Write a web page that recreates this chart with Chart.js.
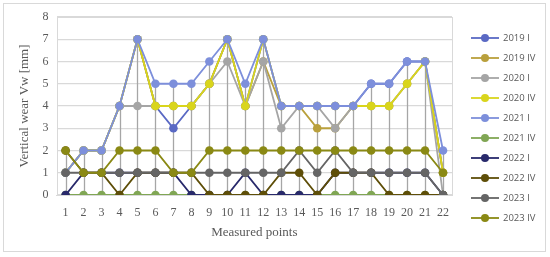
<!DOCTYPE html>
<html>
<head>
<meta charset="utf-8">
<script src="https://cdn.jsdelivr.net/npm/chart.js@4.4.1/dist/chart.umd.min.js"></script>
<style>
  html, body { margin: 0; padding: 0; background: #fff; }
  #wrap { position: relative; width: 550px; height: 257px; }
  #frame { position: absolute; left: 3px; top: 3px; width: 543px; height: 249px; border: 1px solid #d9d9d9; box-sizing: border-box; }
</style>
</head>
<body>
<div id="wrap">
  <div id="frame"></div>
  <canvas id="wearChart" width="550" height="257"></canvas>
</div>
<script>
// Measured points along the rail
const points = ["1","2","3","4","5","6","7","8","9","10","11","12","13","14","15","16","17","18","19","20","21","22"];

// vertical wear Vw [mm] per survey
const v2019I  = [1,2,2,4,7,4,3,4,5,7,4,7,4,4,4,4,4,5,5,6,6,1];
const v2019IV = [1,2,2,4,7,4,4,4,5,7,4,6,4,4,3,3,4,4,4,5,6,1];
const v2020I  = [1,2,2,4,4,4,4,4,5,6,4,6,3,4,4,3,4,4,4,5,6,0];
const v2020IV = [1,2,2,4,7,4,4,4,5,7,4,7,4,4,4,4,4,4,4,5,6,1];
const v2021I  = [1,2,2,4,7,5,5,5,6,7,5,7,4,4,4,4,4,5,5,6,6,2];
const v2021IV = [0,0,0,0,0,0,0,0,0,0,0,0,0,0,0,0,0,0,0,0,0,0];
const v2022I  = [0,1,1,1,1,1,1,0,0,0,1,0,0,0,0,1,1,1,1,1,1,0];
const v2022IV = [2,1,1,0,1,1,1,1,0,0,0,0,1,1,0,1,1,1,0,0,0,0];
const v2023I  = [1,1,1,1,1,1,1,1,1,1,1,1,1,2,1,2,1,1,1,1,1,0];
const v2023IV = [2,1,1,2,2,2,1,1,2,2,2,2,2,2,2,2,2,2,2,2,2,1];

const seriesNames = ["2019 I","2019 IV","2020 I","2020 IV","2021 I","2021 IV","2022 I","2022 IV","2023 I","2023 IV"];
const seriesData = [v2019I, v2019IV, v2020I, v2020IV, v2021I, v2021IV, v2022I, v2022IV, v2023I, v2023IV];
const seriesColors = ["#5a69c4","#b9a03c","#a5a5a5","#d9d51c","#7d8fdb","#80a654","#28296b","#5e4e08","#656565","#8a8914"];

const datasets = seriesNames.map(function (name, i) {
  return {
    label: name,
    data: seriesData[i],
    borderColor: seriesColors[i],
    backgroundColor: seriesColors[i],
    borderWidth: 1.8,
    pointRadius: 4.3,
    pointBorderWidth: 0,
    tension: 0,
    order: seriesNames.length - i   // later surveys on top, like the original
  };
});

// plot frame + gray drop lines from the highest point down to the axis
const dropLines = {
  id: "dropLines",
  beforeDatasetsDraw(chart) {
    const x = chart.scales.x, y = chart.scales.y, ctx = chart.ctx;
    const a = chart.chartArea;
    ctx.save();
    ctx.strokeStyle = "#d9d9d9";
    ctx.lineWidth = 1;
    ctx.strokeRect(Math.round(a.left) + 0.5, Math.round(a.top) + 0.5, Math.round(a.right - a.left), Math.round(a.bottom - a.top));
    ctx.strokeStyle = "#a6a6a6";
    ctx.lineWidth = 1.3;
    points.forEach(function (p, i) {
      let top = 0;
      seriesData.forEach(function (s) { if (s[i] > top) top = s[i]; });
      const px = Math.round(x.getPixelForValue(i)) + 0.5;
      ctx.beginPath();
      ctx.moveTo(px, y.getPixelForValue(top));
      ctx.lineTo(px, y.getPixelForValue(0));
      ctx.stroke();
    });
    ctx.restore();
  }
};

// Excel style legend: short line with a marker
const sideLegend = {
  id: "sideLegend",
  afterDraw(chart) {
    const ctx = chart.ctx;
    const x0 = 471, y0 = 38, step = 20;
    ctx.save();
    ctx.font = "9.5px 'Open Sans', sans-serif";
    ctx.textBaseline = "middle";
    seriesNames.forEach(function (name, i) {
      const yy = y0 + i * step;
      ctx.strokeStyle = seriesColors[i];
      ctx.lineWidth = 1.8;
      ctx.beginPath();
      ctx.moveTo(x0, yy);
      ctx.lineTo(x0 + 28, yy);
      ctx.stroke();
      ctx.fillStyle = seriesColors[i];
      ctx.beginPath();
      ctx.arc(x0 + 14, yy, 4, 0, Math.PI * 2);
      ctx.fill();
      ctx.fillStyle = "#595959";
      ctx.fillText(name, x0 + 32, yy);
    });
    ctx.restore();
  }
};

window.onload = function () {
  const ctx = document.getElementById("wearChart").getContext("2d");
  new Chart(ctx, {
    type: "line",
    data: { labels: points, datasets: datasets },
    options: {
      responsive: false,
      animation: false,
      layout: { padding: { left: 13, top: 17, right: 98, bottom: 13 } },
      plugins: { legend: { display: false }, tooltip: { enabled: false } },
      scales: {
        x: {
          offset: true,
          grid: { display: false },
          border: { color: "#d9d9d9" },
          ticks: { color: "#595959", font: { family: "'Liberation Serif', serif", size: 12 }, maxRotation: 0, autoSkip: false },
          title: { display: true, text: "Measured points", color: "#595959", font: { family: "'Liberation Serif', serif", size: 13 }, padding: { top: 1 } }
        },
        y: {
          min: 0, max: 8,
          ticks: { stepSize: 1, color: "#595959", font: { family: "'Liberation Serif', serif", size: 12 }, padding: 8 },
          grid: { color: "#d9d9d9", lineWidth: 1.3, drawTicks: false },
          border: { display: false },
          title: { display: true, text: "Vertical wear Vw [mm]", color: "#595959", font: { family: "'Liberation Serif', serif", size: 13 }, padding: { bottom: 2 } }
        }
      }
    },
    plugins: [dropLines, sideLegend]
  });
};
</script>
</body>
</html>
